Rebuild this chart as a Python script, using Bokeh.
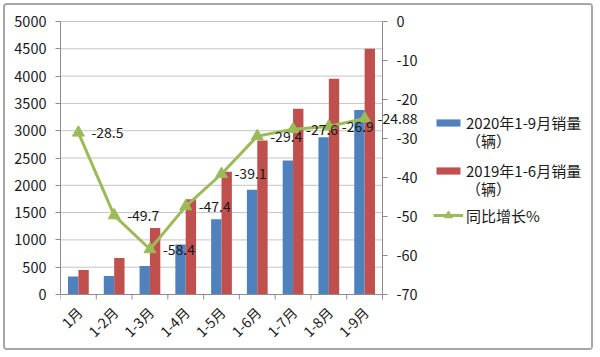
import numpy as np
from bokeh.plotting import figure
from bokeh.models import (Range1d, FixedTicker, ColumnDataSource, Legend, LegendItem, LabelSet)
from bokeh.core.properties import value
from bokeh.transform import dodge
from bokeh.embed import file_html
from bokeh.resources import INLINE

categories = ["1月", "1-2月", "1-3月", "1-4月", "1-5月", "1-6月", "1-7月", "1-8月", "1-9月"]
sales_2020 = [330, 340, 520, 915, 1380, 1920, 2455, 2880, 3380]
sales_2019 = [450, 670, 1220, 1745, 2250, 2820, 3400, 3950, 4500]
yoy_growth = [-28.5, -49.7, -58.4, -47.4, -39.1, -29.4, -27.6, -26.9, -24.88]
yoy_labels = ["-28.5", "-49.7", "-58.4", "-47.4", "-39.1", "-29.4", "-27.6", "-26.9", "-24.88"]
left_ticks = [0, 500, 1000, 1500, 2000, 2500, 3000, 3500, 4000, 4500, 5000]
right_ticks = [-70, -60, -50, -40, -30, -20, -10, 0]
right_tick_labels = ["-70", "-60", "-50", "-40", "-30", "-20", "-10", "0"]
series_names = ["2020年1-9月销量", "（辆）", "2019年1-6月销量", "（辆）", "同比增长%"]

BLUE = "#4F81BD"
RED = "#C0504D"
GREEN = "#9BBB59"
FONT = "Noto Sans CJK SC"
TXT = "#1a1a1a"
AXC = "#8c8c8c"
GRID = "#c4c4c4"

# layout (figure pixels); the frame covers everything right of the left axis
W, H = 590, 347
FL = 55
PX0, PX1 = 55, 377      # pixel of x = 0.5 and x = 9.5
PYT, PYB = 16, 289      # pixel of the top and bottom of the value axes
XA, XB = 0.5, len(categories) + 0.5
YMAX = 5000
PMIN, PMAX = -70, 0

ppx = (PX1 - PX0) / (XB - XA)
ppy = (PYB - PYT) / YMAX
ppp = (PYB - PYT) / (PMAX - PMIN)
x_range = Range1d(XA - (PX0 - FL) / ppx, XB + (W - PX1) / ppx)
y_range = Range1d(0 - (H - PYB) / ppy, YMAX + PYT / ppy)
p_range = Range1d(PMIN - (H - PYB) / ppp, PMAX + PYT / ppp)

x = np.arange(1, len(categories) + 1)
src = ColumnDataSource(dict(x=x, s20=sales_2020, s19=sales_2019, g=yoy_growth,
                            lab=yoy_labels, cat=categories, zero=[0] * len(x)))

p = figure(width=W, height=H, x_range=x_range, y_range=y_range, title=None,
           x_axis_location=None, output_backend="svg", toolbar_location=None,
           min_border_left=FL, min_border_right=0, min_border_top=0, min_border_bottom=0,
           styles={"border": "2px solid #a6a6a6", "border-radius": "4px", "margin": "3px"})
p.extra_y_ranges = {"pct": p_range}
p.outline_line_color = None
p.background_fill_color = "white"
p.border_fill_color = "white"
p.xgrid.visible = False
p.ygrid.visible = False

# horizontal grid lines (only over the category span)
p.segment(x0=XA, x1=XB, y0=left_ticks, y1=left_ticks, line_color=GRID, line_width=1)

# bars
r20 = p.vbar(x=dodge("x", -0.145), top="s20", width=0.29, bottom=0, source=src,
             fill_color=BLUE, line_color=None)
r19 = p.vbar(x=dodge("x", 0.145), top="s19", width=0.29, bottom=0, source=src,
             fill_color=RED, line_color=None)

# bottom axis line, boundary ticks and rotated category labels
p.segment(x0=XA, x1=XB, y0=0, y1=0, line_color=AXC, line_width=1)
bounds = [XA + i for i in range(len(categories) + 1)]
p.segment(x0=bounds, x1=bounds, y0=0, y1=-5 / ppy, line_color=AXC, line_width=1)
p.text(x="x", y="zero", text="cat", source=src, angle=np.pi / 4, text_align="right",
       text_baseline="middle", x_offset=1, y_offset=15, text_font=value(FONT),
       text_font_size="14px", text_color=TXT)

# right axis (at the end of the category span)
p.segment(x0=XB, x1=XB, y0=PMIN, y1=PMAX, y_range_name="pct", line_color=AXC, line_width=1)
p.segment(x0=XB, x1=XB + 5 / ppx, y0=right_ticks, y1=right_ticks, y_range_name="pct",
          line_color=AXC, line_width=1)
p.text(x=[XB] * len(right_ticks), y=right_ticks, text=right_tick_labels, y_range_name="pct",
       x_offset=14, text_align="left", text_baseline="middle", text_font=value(FONT),
       text_font_size="14.5px", text_color=TXT)

# growth line
rl = p.line(x="x", y="g", source=src, y_range_name="pct", line_color=GREEN, line_width=3)
rs = p.scatter(x="x", y="g", source=src, y_range_name="pct", marker="triangle", size=12,
               fill_color=GREEN, line_color=GREEN)

labels = LabelSet(x="x", y="g", text="lab", source=src, y_range_name="pct", x_offset=13,
                  text_align="left", text_baseline="middle", text_font=value(FONT),
                  text_font_size="14px", text_color=TXT)
p.add_layout(labels)

# left axis
ya = p.yaxis[0]
ya.ticker = FixedTicker(ticks=left_ticks)
ya.bounds = (0, YMAX)
ya.major_tick_out = 5
ya.major_tick_in = 0
ya.minor_tick_out = 0
ya.minor_tick_in = 0
ya.major_tick_line_color = AXC
ya.axis_line_color = AXC
ya.major_label_text_font = FONT
ya.major_label_text_font_size = "14.5px"
ya.major_label_text_color = TXT
ya.major_label_standoff = 9

# legend: one single-row legend per text line
dummy = p.scatter(x=[], y=[], fill_alpha=0, line_alpha=0)
LH = 40
rows = [
    (series_names[0], [r20], 122),
    (series_names[1], [dummy], 140),
    (series_names[2], [r19], 170),
    (series_names[3], [dummy], 188),
    (series_names[4], [rl, rs], 215),
]
for name, rends, yc in rows:
    lg = Legend(items=[LegendItem(label=name, renderers=rends)],
                location=(373, 352 - yc - LH / 2))
    lg.padding = 0
    lg.margin = 0
    lg.spacing = 0
    lg.glyph_width = 30
    lg.glyph_height = 9 if rends[0] is not rl else 20
    lg.label_height = LH
    lg.label_standoff = 3
    lg.label_text_font = FONT
    lg.label_text_font_size = "15px"
    lg.label_text_color = TXT
    lg.border_line_alpha = 0
    lg.background_fill_alpha = 0
    p.add_layout(lg, "center")

open("out.html", "w").write(file_html(p, INLINE))
